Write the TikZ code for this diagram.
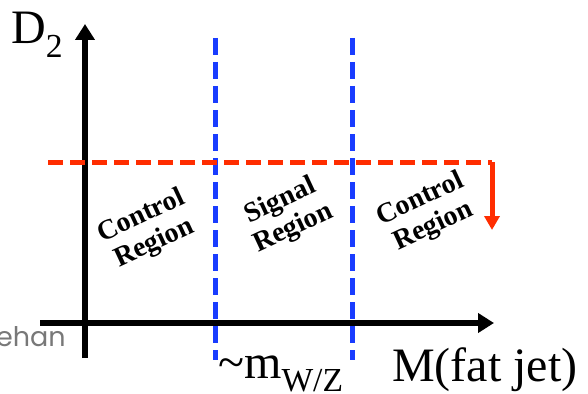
\documentclass[tikz,border=0pt]{standalone}
\usepackage{fontspec}
\setmainfont{Liberation Serif}
\setsansfont{Poppins}
\usetikzlibrary{arrows.meta}
\definecolor{cutred}{RGB}{255,45,0}
\definecolor{winblue}{RGB}{25,60,255}
\definecolor{footgray}{RGB}{120,120,120}
\tikzset{
  axis/.style={line width=5.5pt, -{Triangle[length=16pt,width=19pt]}},
  bluecut/.style={winblue, line width=5pt, dash pattern=on 17pt off 7pt},
  redcut/.style={cutred, line width=5pt, dash pattern=on 15pt off 7pt},
  region/.style={font=\fontsize{28}{30}\selectfont\bfseries, align=center, rotate=25, inner sep=0pt},
  biglabel/.style={font=\fontsize{48}{52}\selectfont, inner sep=0pt}
}
\begin{document}
\begin{tikzpicture}[x=1pt,y=-1pt]
\useasboundingbox (0,0) rectangle (588,393);
\coordinate (yb) at (85,358);
\coordinate (yt) at (85,24);
\coordinate (xl) at (40,323);
\coordinate (xr) at (494,323);
\draw[axis] (yb) -- (yt);
\draw[axis] (xl) -- (xr);
\coordinate (b1t) at (215,38);
\coordinate (b1b) at (215,360);
\coordinate (b2t) at (352,38);
\coordinate (b2b) at (352,360);
\draw[bluecut] (b1t) -- (b1b);
\draw[bluecut] (b2t) -- (b2b);
\coordinate (rl) at (48,162);
\coordinate (rc) at (492,162);
\coordinate (rd) at (492,230);
\draw[redcut] (rl) -- (rc);
\draw[cutred, line width=5pt, -{Triangle[length=14pt,width=15pt]}] (rc) -- (rd);
\node[biglabel, anchor=base west] (d2) at (11,44) {D\textsubscript{2}};
\node[region] (cr1) at (148,230) {Control\\Region};
\node[region] (sr) at (287,215) {Signal\\Region};
\node[region] (cr2) at (427,213) {Control\\Region};
\node[font=\fontsize{27}{29}\selectfont\sffamily, text=footgray, anchor=base west, inner sep=0pt] (foot) at (-4,346) {ehan};
\node[biglabel, anchor=base west] (mwz) at (218,378) {\char`~m\textsubscript{W/Z}};
\node[biglabel, anchor=base west] (mfj) at (392,381) {M(fat jet)};
\end{tikzpicture}
\end{document}
